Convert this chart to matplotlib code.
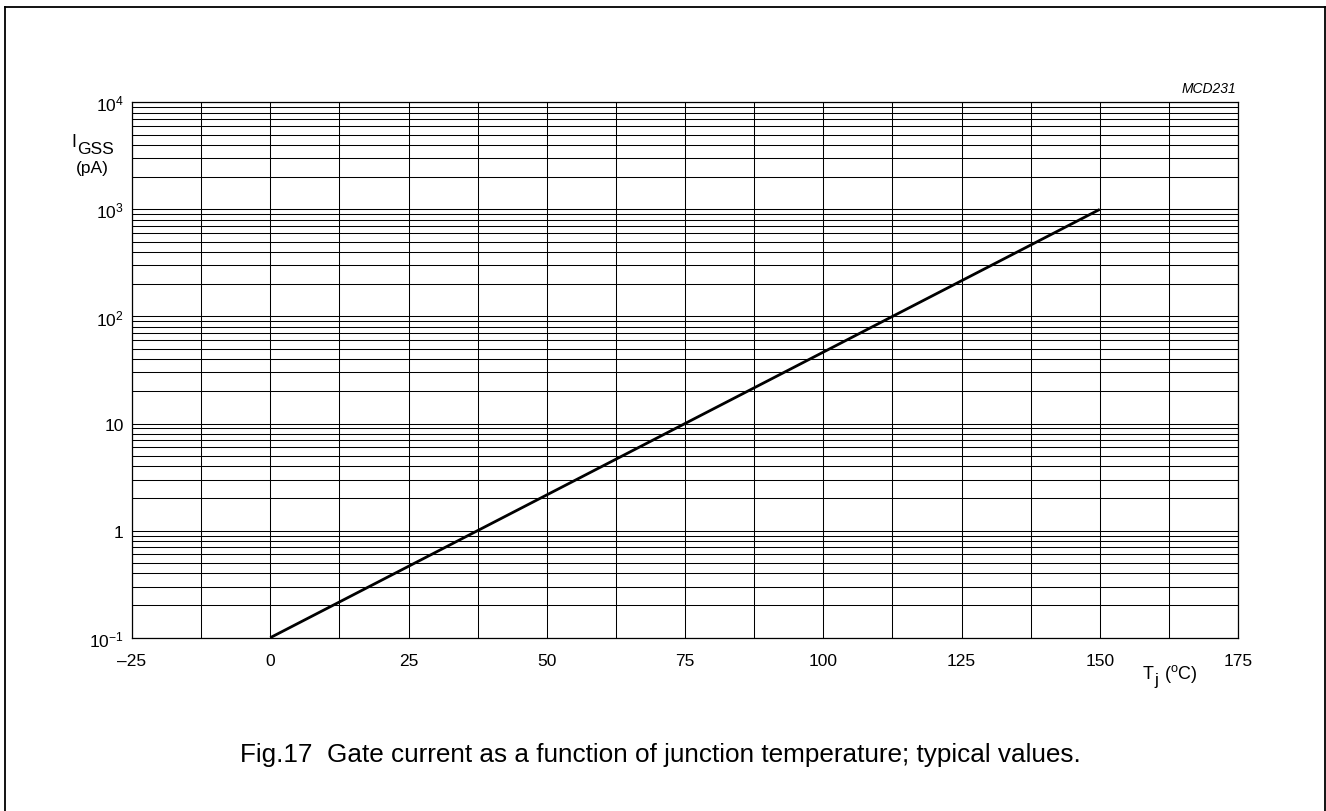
import matplotlib
matplotlib.use("Agg")
import matplotlib.pyplot as plt
from matplotlib.lines import Line2D
import numpy as np

plt.rcParams['font.family'] = ['Liberation Sans', 'DejaVu Sans']
plt.rcParams['mathtext.fontset'] = 'custom'
plt.rcParams['mathtext.rm'] = 'Liberation Sans'
plt.rcParams['mathtext.it'] = 'Liberation Sans:italic'
plt.rcParams['mathtext.default'] = 'regular'

# Data
tj = [0, 150]
igss = [0.1, 1000]

x_ticks = [-25, 0, 25, 50, 75, 100, 125, 150, 175]
x_labels = ['\u201325', '0', '25', '50', '75', '100', '125', '150', '175']
y_ticks = [0.1, 1, 10, 100, 1000, 10000]
y_labels = ['10$^{-1}$', '1', '10', '10$^{2}$', '10$^{3}$', '10$^{4}$']

W, H = 1326, 812
fig = plt.figure(figsize=(W / 100, H / 100), dpi=100)
ax = fig.add_axes([132 / W, 1 - 638.7 / H, (1238 - 132) / W, (638.7 - 103.3) / H])

ax.set_yscale('log')
ax.set_xlim(-25, 175)
ax.set_ylim(0.1, 10000)

ax.set_xticks(x_ticks)
ax.set_xticklabels(x_labels)
ax.set_xticks(np.arange(-12.5, 175, 25), minor=True)
ax.set_yticks(y_ticks)
ax.set_yticklabels(y_labels)
ax.yaxis.set_minor_locator(matplotlib.ticker.LogLocator(base=10, subs=np.arange(2, 10)))
ax.yaxis.set_minor_formatter(matplotlib.ticker.NullFormatter())

ax.tick_params(which='both', length=0)
ax.tick_params(axis='x', which='major', pad=11, labelsize=12.5)
ax.tick_params(axis='y', which='major', pad=6, labelsize=12.5)

ax.grid(which='both', color='black', linewidth=0.75)
ax.set_axisbelow(True)
for s in ax.spines.values():
    s.set_linewidth(0.9)
    s.set_color('black')

ax.plot(tj, igss, color='black', linewidth=2.0, solid_capstyle='butt', zorder=5)

# Axis labels
fig.text(71 / W, 1 - 147 / H, 'I', fontsize=13, ha='left', va='baseline')
fig.text(77 / W, 1 - 154 / H, 'GSS', fontsize=12.5, ha='left', va='baseline')
fig.text(92.5 / W, 1 - 168 / H, '(pA)', fontsize=12.5, ha='center', va='center')

fig.text(1143 / W, 1 - 679 / H, 'T', fontsize=13, ha='left', va='baseline')
fig.text(1154 / W, 1 - 685 / H, 'j', fontsize=12.5, ha='left', va='baseline')
fig.text(1198 / W, 1 - 679 / H, r'($^{\rm o}$C)', fontsize=13, ha='right', va='baseline')

fig.text(1236 / W, 1 - 93 / H, 'MCD231', fontsize=10, style='italic', ha='right', va='baseline')

fig.text(240 / W, 1 - 755 / H,
         'Fig.17  Gate current as a function of junction temperature; typical values.',
         fontsize=18.8, ha='left', va='center')

# Frame (open at the bottom)
lw = 1.3
fig.add_artist(Line2D([4.5 / W, 4.5 / W], [0, 1 - 8 / H], color='black', lw=lw, transform=fig.transFigure))
fig.add_artist(Line2D([4.5 / W, 1324.5 / W], [1 - 8 / H, 1 - 8 / H], color='black', lw=lw, transform=fig.transFigure))
fig.add_artist(Line2D([1324.5 / W, 1324.5 / W], [0, 1 - 8 / H], color='black', lw=lw, transform=fig.transFigure))

fig.savefig('out.png', dpi=100)
